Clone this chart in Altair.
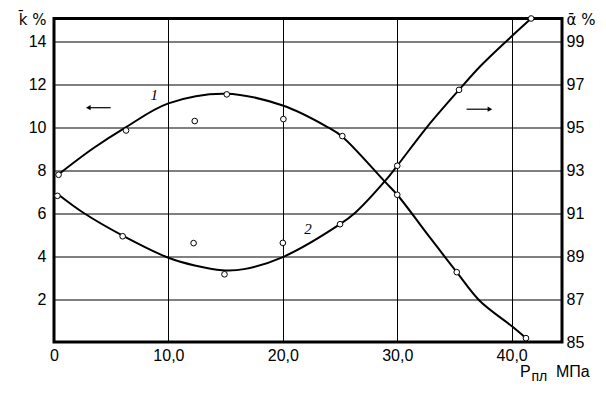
import altair as alt
import pandas as pd

# ---- data ----
# curve 1 (left axis, k̄ %)
c1_x = [0.4, 3.4, 6.3, 10.0, 15.0, 20.0, 23.9, 25.2, 28.9, 30.0, 32.9, 35.2, 37.2, 40.0, 41.25]
c1_k = [7.8, 9.0, 10.0, 11.1, 11.55, 11.0, 10.0, 9.55, 7.47, 6.85, 4.83, 3.25, 1.92, 0.74, 0.18]
p1_x = [0.4, 6.3, 12.3, 15.1, 20.05, 25.2, 30.0, 35.2, 41.25]
p1_k = [7.78, 9.84, 10.28, 11.52, 10.37, 9.58, 6.85, 3.25, 0.18]

# curve 2 (right axis, ᾱ %)
c2_x = [0.4, 2.6, 6.0, 10.0, 12.3, 14.7, 16.6, 20.0, 25.0, 26.3, 28.9, 30.0, 32.6, 35.4, 37.3, 39.75, 41.7]
c2_a = [91.85, 91.0, 89.95, 88.92, 88.56, 88.34, 88.39, 88.95, 90.48, 91.0, 92.47, 93.2, 95.0, 96.73, 97.85, 99.1, 100.05]
p2_x = [0.3, 6.0, 12.2, 14.9, 20.0, 25.0, 30.0, 35.4, 41.7]
p2_a = [91.8, 89.92, 89.6, 88.15, 89.61, 90.48, 93.2, 96.73, 100.05]

x_ticks = [0, 10, 20, 30, 40]
k_ticks = [2, 4, 6, 8, 10, 12, 14]
a_ticks = [85, 87, 89, 91, 93, 95, 97, 99]

# curve labels (x, k)
lab_text = ["1", "2"]
lab_x = [8.76, 22.2]
lab_k = [11.48, 5.27]

# direction arrows
arr1 = {"x": 3.0, "x2": 4.95, "k": 10.9}
arr2 = {"x": 36.06, "x2": 38.1, "a": 95.83}

FONT = "Liberation Sans"
FS = 16
X_DOM = [0, 44.4]
K_DOM = [0, 15.05]
A_DOM = [85, 100.05]

df_c1 = pd.DataFrame({"x": c1_x, "k": c1_k})
df_p1 = pd.DataFrame({"x": p1_x, "k": p1_k})
df_c2 = pd.DataFrame({"x": c2_x, "a": c2_a})
df_p2 = pd.DataFrame({"x": p2_x, "a": p2_a})
df_lab = pd.DataFrame({"t": lab_text, "x": lab_x, "k": lab_k})
df_a1 = pd.DataFrame([arr1])
df_a2 = pd.DataFrame([arr2])

x_enc = alt.X(
    "x:Q",
    scale=alt.Scale(domain=X_DOM, nice=False, zero=False),
    axis=alt.Axis(
        values=x_ticks, grid=True, gridColor="black", gridWidth=1, gridOpacity=1,
        domain=False, ticks=False, labelFont=FONT, labelFontSize=FS, labelColor="black",
        labelPadding=5, labelFlush=False,
        labelExpr="datum.value == 0 ? '0' : replace(format(datum.value, '.1f'), '.', ',')",
        title=None,
    ),
)

k_scale = alt.Scale(domain=K_DOM, nice=False, zero=False)
a_scale = alt.Scale(domain=A_DOM, nice=False, zero=False)

k_axis = alt.Axis(
    orient="left", values=k_ticks, grid=True, gridColor="black", gridWidth=1, gridOpacity=1,
    domain=False, ticks=False, labelFont=FONT, labelFontSize=FS, labelColor="black",
    labelPadding=8, title="k̄ %", titleAngle=0, titleX=-8, titleY=1, titleAlign="right",
    titleBaseline="middle", titleFont="DejaVu Sans", titleFontSize=15, titleFontWeight="normal",
    titleColor="black",
)
a_axis = alt.Axis(
    orient="right", values=a_ticks, grid=False, domain=False, ticks=False,
    labelFont=FONT, labelFontSize=FS, labelColor="black", labelPadding=4,
    title="ᾱ %", titleAngle=0, titleX=4, titleY=1, titleAlign="left",
    titleBaseline="middle", titleFont="DejaVu Sans", titleFontSize=15, titleFontWeight="normal",
    titleColor="black",
)

line1 = alt.Chart(df_c1).mark_line(color="black", strokeWidth=2, interpolate="catmull-rom").encode(
    x=x_enc, y=alt.Y("k:Q", scale=k_scale, axis=k_axis)
)
pts1 = alt.Chart(df_p1).mark_point(shape="circle", size=32, filled=True, fill="white",
                                   stroke="black", strokeWidth=1, opacity=1).encode(
    x="x:Q", y="k:Q"
)
labs = alt.Chart(df_lab).mark_text(font="Liberation Serif", fontStyle="italic", fontSize=15,
                                   color="black").encode(x="x:Q", y="k:Q", text="t:N")
shaft1 = alt.Chart(df_a1).mark_rule(color="black", strokeWidth=1.2).encode(
    x="x:Q", x2="x2:Q", y="k:Q"
)
head1 = alt.Chart(df_a1).mark_point(shape="triangle-left", size=28, filled=True,
                                    color="black", opacity=1).encode(
    x=alt.X("x:Q"), y="k:Q"
)

xt_P = alt.Chart(df_a1).mark_text(font=FONT, fontSize=FS, align="left", baseline="alphabetic",
                                  color="black", text="P").encode(x=alt.value(466), y=alt.value(358))
xt_pl = alt.Chart(df_a1).mark_text(font=FONT, fontSize=14, align="left", baseline="alphabetic",
                                   color="black", text="пл").encode(x=alt.value(477.5), y=alt.value(362))
xt_mpa = alt.Chart(df_a1).mark_text(font=FONT, fontSize=FS, align="left", baseline="alphabetic",
                                    color="black", text="МПа").encode(x=alt.value(502), y=alt.value(358))

left = alt.layer(line1, pts1, labs, shaft1, head1, xt_P, xt_pl, xt_mpa)

line2 = alt.Chart(df_c2).mark_line(color="black", strokeWidth=2, interpolate="catmull-rom").encode(
    x="x:Q", y=alt.Y("a:Q", scale=a_scale, axis=a_axis)
)
pts2 = alt.Chart(df_p2).mark_point(shape="circle", size=32, filled=True, fill="white",
                                   stroke="black", strokeWidth=1, opacity=1).encode(
    x="x:Q", y="a:Q"
)
shaft2 = alt.Chart(df_a2).mark_rule(color="black", strokeWidth=1.2).encode(
    x="x:Q", x2="x2:Q", y="a:Q"
)
head2 = alt.Chart(df_a2).mark_point(shape="triangle-right", size=28, filled=True,
                                    color="black", opacity=1).encode(
    x=alt.X("x2:Q"), y="a:Q"
)
right = alt.layer(line2, pts2, shaft2, head2)

chart = (
    alt.layer(left, right)
    .resolve_scale(y="independent")
    .properties(
        width=508, height=323.5,
        autosize=alt.AutoSizeParams(type="none"),
        padding={"left": 46, "top": 10.5, "right": 36, "bottom": 65},
        background="white",
    )
    .configure_view(stroke="black", strokeWidth=3)
)

chart.save("out.html", embed_options={"renderer": "svg", "actions": False})
